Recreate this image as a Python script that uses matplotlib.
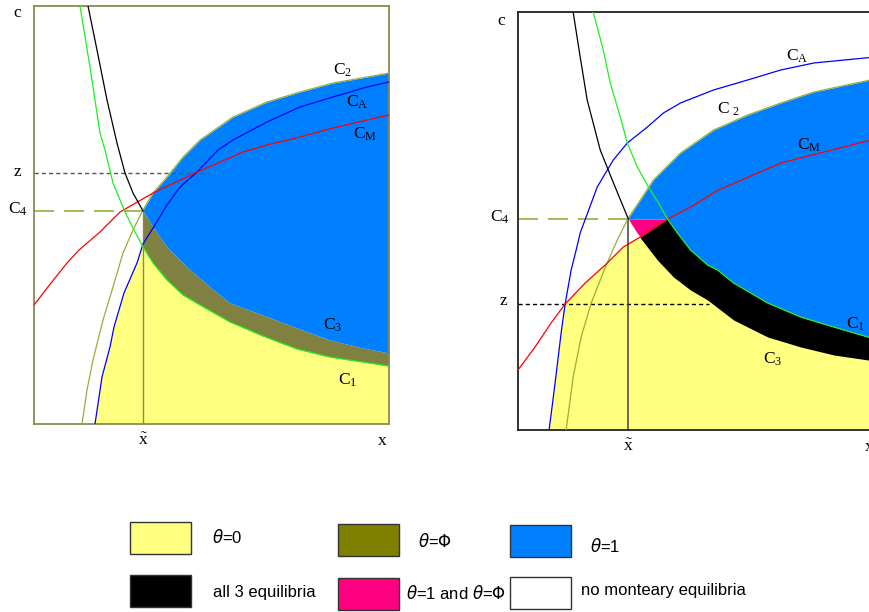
import matplotlib
matplotlib.use("Agg")

import numpy as np
import matplotlib.pyplot as plt
from matplotlib.patches import Rectangle

plt.rcParams["mathtext.fontset"] = "custom"
plt.rcParams["mathtext.rm"] = "Liberation Serif"
plt.rcParams["mathtext.it"] = "Liberation Serif:italic"
plt.rcParams["lines.scale_dashes"] = False

############################################################
# Left panel curves (x, c)
############################################################

L_xt = 109
L_c4 = 213
L_z = 251

L_c1_x = [46, 56, 66, 71, 79, 91, 99, 109, 119, 133, 149, 166, 196, 229, 263, 296, 329, 355]
L_c1_y = [418, 357, 291, 274, 241, 212, 196, 177, 161, 144, 129, 119, 102, 88, 75, 67, 62, 58]

L_c3_x = [54, 63, 73, 83, 91, 99, 109, 119, 133, 153, 176, 196, 229, 263, 296, 329, 355]
L_c3_y = [418, 374, 324, 281, 251, 231, 213, 197, 177, 157, 137, 121, 109, 96, 84, 76, 71]

L_c2_x = [48, 53, 59, 69, 79, 89, 99, 109, 119, 133, 149, 166, 199, 233, 266, 299, 333, 355]
L_c2_y = [0, 34, 64, 104, 137, 171, 194, 214, 231, 247, 267, 284, 307, 322, 332, 341, 347, 351]

L_ca_x = [61, 68, 76, 80, 90, 103, 109, 119, 133, 146, 162, 184, 199, 233, 266, 299, 333, 355]
L_ca_y = [0, 47, 77, 97, 131, 161, 180, 196, 219, 237, 251, 274, 284, 302, 317, 327, 337, 342]

L_cm_x = [0, 17, 33, 45, 66, 86, 119, 161, 209, 233, 266, 299, 333, 355]
L_cm_y = [119, 141, 161, 174, 192, 212, 231, 251, 272, 279, 287, 296, 304, 309]

############################################################
# Right panel curves
############################################################

R_xt = 110
R_c4 = 211
R_z = 126

R_c1_x = [75, 85, 92, 102, 109, 119, 130, 139, 149, 159, 172, 189, 199, 215, 249, 282, 315, 349, 356]
R_c1_y = [418, 380, 347, 313, 287, 263, 243, 229, 211, 197, 180, 165, 160, 147, 127, 113, 103, 93, 91]

R_c3_x = [55, 62, 69, 82, 94, 110, 122, 139, 155, 172, 189, 215, 249, 282, 315, 356]
R_c3_y = [418, 373, 330, 280, 250, 211, 192, 170, 153, 140, 130, 110, 93, 83, 75, 69]

R_c2_x = [48, 55, 63, 73, 88, 99, 110, 122, 135, 145, 162, 195, 229, 262, 295, 356]
R_c2_y = [0, 53, 93, 127, 165, 190, 212, 230, 250, 260, 277, 300, 315, 327, 338, 351]

R_ca_x = [31, 37, 43, 47, 53, 58, 62, 79, 95, 109, 129, 145, 162, 195, 229, 262, 295, 356]
R_ca_y = [0, 47, 97, 126, 160, 180, 197, 243, 270, 287, 303, 317, 327, 340, 350, 360, 367, 373]

R_cm_x = [0, 17, 33, 47, 67, 87, 105, 122, 149, 172, 200, 262, 356]
R_cm_y = [60, 83, 107, 126, 147, 165, 183, 193, 211, 223, 240, 267, 291]

############################################################
# Legend
############################################################

leg_labels = [r"$\theta$=0", r"$\theta$=$\Phi$", r"$\theta$=1",
              "all 3 equilibria", r"$\theta$=1 and $\theta$=$\Phi$",
              "no monteary equilibria"]
leg_colors = ["#ffff80", "#808000", "#0080ff", "#000000", "#ff0080", "#ffffff"]

YELLOW = "#ffff80"
OLIVE_FILL = "#808040"
BLUE_FILL = "#0080ff"
PINK = "#ff0080"
GREEN = "#22ee22"
OLIVE_LINE = "#9aad3a"

W, H = 870, 612
fig = plt.figure(figsize=(W / 100, H / 100), dpi=100)

axL = fig.add_axes([34 / W, (H - 424) / H, 355 / W, 418 / H])
axR = fig.add_axes([518 / W, (H - 430) / H, 356 / W, 418 / H])

for ax in (axL, axR):
    ax.set_xlim(0, 355)
    ax.set_ylim(0, 418)
    ax.set_xticks([])
    ax.set_yticks([])

xmax = 355

############################################################
# Left panel regions
############################################################

c1x, c1y = np.array(L_c1_x), np.array(L_c1_y)
c3x, c3y = np.array(L_c3_x), np.array(L_c3_y)
c2x, c2y = np.array(L_c2_x), np.array(L_c2_y)
cax, cay = np.array(L_ca_x), np.array(L_ca_y)

m = cax < L_xt
m1 = c1x >= L_xt
yel_x = np.concatenate([cax[m], c1x[m1], [xmax]])
yel_y = np.concatenate([cay[m], c1y[m1], [0]])
axL.fill(yel_x, yel_y, color=YELLOW, lw=0, zorder=1)

gx = np.union1d(np.union1d(c1x[c1x >= L_xt], c3x[c3x >= L_xt]), c2x[c2x >= L_xt])
g1 = np.interp(gx, c1x, c1y)
g3 = np.interp(gx, c3x, c3y)
g2 = np.interp(gx, c2x, c2y)
axL.fill_between(gx, g1, g3, color=OLIVE_FILL, lw=0, zorder=1)
axL.fill_between(gx, g3, g2, color=BLUE_FILL, lw=0, zorder=1)

axL.plot([0, L_xt], [L_c4, L_c4], color=OLIVE_LINE, lw=1.2,
         linestyle=(0, (14.4, 7.2)), zorder=2)
axL.plot([0, 175], [L_z, L_z], color="#555555", lw=1,
         linestyle=(0, (3, 2.2)), zorder=2)
axL.plot([L_xt, L_xt], [0, L_c4], color="#8a8a50", lw=1, zorder=2)

axL.plot(L_c2_x, L_c2_y, color=OLIVE_LINE, lw=0.9, zorder=3)
axL.plot(L_ca_x, L_ca_y, color="#0000ff", lw=0.9, zorder=3)
axL.plot(L_cm_x, L_cm_y, color="#ff0000", lw=0.9, zorder=3)
axL.plot(c3x[c3x <= L_xt], c3y[c3x <= L_xt], color="black", lw=0.9, zorder=3)
axL.plot(L_c1_x, L_c1_y, color=GREEN, lw=0.9, zorder=3)

for s in axL.spines.values():
    s.set_color("#8a8a50")
    s.set_linewidth(1.3)

############################################################
# Right panel regions
############################################################

c1x, c1y = np.array(R_c1_x), np.array(R_c1_y)
c3x, c3y = np.array(R_c3_x), np.array(R_c3_y)
c2x, c2y = np.array(R_c2_x), np.array(R_c2_y)
cax, cay = np.array(R_ca_x), np.array(R_ca_y)
cmx, cmy = np.array(R_cm_x), np.array(R_cm_y)

# meeting point of C_A and C_M, and of C_M and C_3
xa = R_cm_x[3]
xp = R_cm_x[7]
m = cax < xa
mm = (cmx >= xa) & (cmx < xp)
m3 = c3x >= xp
yel_x = np.concatenate([cax[m], cmx[mm], c3x[m3], [xmax + 1]])
yel_y = np.concatenate([cay[m], cmy[mm], c3y[m3], [0]])
axR.fill(yel_x, yel_y, color=YELLOW, lw=0, zorder=1)

gx = np.union1d(np.union1d(c1x, c3x), np.union1d(c2x, cmx))
gx = gx[gx >= R_xt]
g1 = np.interp(gx, c1x, c1y)
g3 = np.interp(gx, c3x, c3y)
g2 = np.interp(gx, c2x, c2y)
gm = np.interp(gx, cmx, cmy)

up = np.minimum(gm, g1)
axR.fill_between(gx, g3, up, where=(gx >= xp), color="black", lw=0,
                 zorder=1, interpolate=True)
lo = np.maximum(g3, gm)
axR.fill_between(gx, lo, R_c4, where=(gx <= R_cm_x[8]), color=PINK, lw=0,
                 zorder=1, interpolate=True)
axR.fill_between(gx, np.minimum(g1, R_c4), g2, color=BLUE_FILL, lw=0, zorder=1)

axR.plot([0, R_xt], [R_c4, R_c4], color=OLIVE_LINE, lw=1.2,
         linestyle=(0, (14.4, 7.2)), zorder=2)
axR.plot([0, 190], [R_z, R_z], color="black", lw=1,
         linestyle=(0, (3, 2.2)), zorder=2)
axR.plot([R_xt, R_xt], [0, R_c4], color="#404040", lw=1.1, zorder=2)

axR.plot(R_c2_x, R_c2_y, color=OLIVE_LINE, lw=0.9, zorder=3)
axR.plot(R_ca_x, R_ca_y, color="#0000ff", lw=0.9, zorder=3)
axR.plot(R_cm_x, R_cm_y, color="#ff0000", lw=0.9, zorder=3)
axR.plot(c3x[c3x <= R_xt], c3y[c3x <= R_xt], color="black", lw=0.9, zorder=3)
axR.plot(R_c1_x, R_c1_y, color=GREEN, lw=0.9, zorder=3)

for s in axR.spines.values():
    s.set_color("#222222")
    s.set_linewidth(1.3)

############################################################
# Labels
############################################################

lab = dict(fontsize=12.5, ha="center", va="center", clip_on=False, zorder=5)

axL.text(-16, 412, r"$\mathrm{c}$", **lab)
axL.text(-16, L_z + 2, r"$\mathrm{z}$", **lab)
axL.text(-16, L_c4 + 2, r"$\mathrm{C_4}$", **lab)
axL.text(L_xt, -16, r"$\tilde{\mathrm{x}}$", **lab)
axL.text(348, -16, r"$\mathrm{x}$", **lab)
axL.text(309, 354, r"$\mathrm{C_2}$", **lab)
axL.text(323, 322, r"$\mathrm{C_A}$", **lab)
axL.text(331, 290, r"$\mathrm{C_M}$", **lab)
axL.text(299, 99, r"$\mathrm{C_3}$", **lab)
axL.text(314, 44, r"$\mathrm{C_1}$", **lab)

axR.text(-16, 410, r"$\mathrm{c}$", **lab)
axR.text(-18, R_c4 + 2, r"$\mathrm{C_4}$", **lab)
axR.text(-14, R_z + 4, r"$\mathrm{z}$", **lab)
axR.text(R_xt, -16, r"$\tilde{\mathrm{x}}$", **lab)
axR.text(350, -16, r"$\mathrm{x}$", **lab)
axR.text(278, 374, r"$\mathrm{C_A}$", **lab)
axR.text(210, 321, r"$\mathrm{C\ _2}$", **lab)
axR.text(290, 285, r"$\mathrm{C_M}$", **lab)
axR.text(337, 106, r"$\mathrm{C_1}$", **lab)
axR.text(254, 71, r"$\mathrm{C_3}$", **lab)

############################################################
# Legend drawn in pixel space
############################################################

axG = fig.add_axes([0, 0, 1, 1], zorder=-1)
axG.set_xlim(0, W)
axG.set_ylim(H, 0)
axG.axis("off")

box_pos = [(130, 522), (338, 524), (510, 525), (130, 575), (338, 578), (510, 577)]
txt_pos = [(212, 537), (418, 541), (590, 546), (213, 593), (406, 593), (581, 590)]

for lbl, col, (bx, by), (tx, ty) in zip(leg_labels, leg_colors, box_pos, txt_pos):
    axG.add_patch(Rectangle((bx, by), 61, 32, facecolor=col,
                            edgecolor="#333333", lw=1))
    axG.text(tx, ty, lbl, fontsize=12, family="Liberation Sans",
             math_fontfamily="dejavusans", ha="left", va="center")

fig.savefig("out.png", dpi=100)
